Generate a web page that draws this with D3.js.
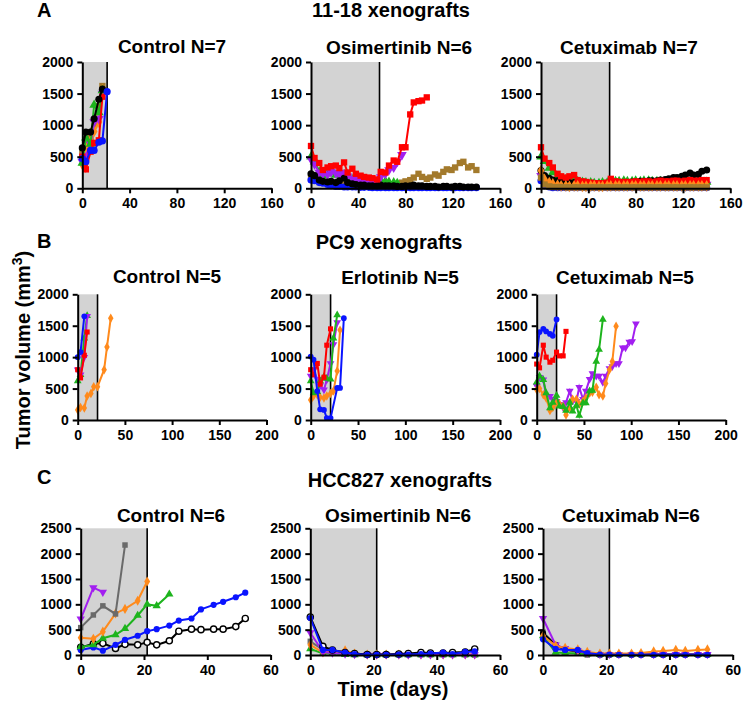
<!DOCTYPE html>
<html><head><meta charset="utf-8">
<script src="https://cdn.jsdelivr.net/npm/d3@7"></script>
<style>
body{margin:0;background:#fff}
svg{display:block}
text{font-family:"Liberation Sans",Arial,Helvetica,sans-serif;font-weight:bold;fill:#000}
</style>
</head><body>
<svg id="chart" width="744" height="705"></svg>
<script>
// ---------------- DATA ----------------
// Row A: 11-18 xenografts
const A_ctrl_days = [0,3,7,10,14,17,21];
const A_ctrl_black  = [640,890,890,1100,1410,1570,null];
const A_ctrl_red    = [500,300,580,720,760,1450,null];
const A_ctrl_green  = [400,800,700,1320,1200,1550,null];
const A_ctrl_purple = [420,520,700,1050,1100,1500,null];
const A_ctrl_orange = [380,650,750,900,1050,1560,null];
const A_ctrl_brown  = [550,700,800,1000,1300,1620,null];
const A_ctrl_blue   = [470,420,600,600,730,750,1530];

const A_long_days = [0,3,7,10,14,17,21,24,28,31,35,38,42,45,49,52,56,59,63,66,70,73,77,80,84,87,91,94,98,101,105,108,112,115,119,122,126,129,133,136,140];
const A_osi_red    = [670,480,400,290,330,350,360,320,410,250,310,230,200,180,170,160,140,260,250,360,440,420,650,650,1170,1360,1380,1390,1440];
const A_osi_purple = [460,380,250,230,220,260,240,220,250,190,160,150,120,110,110,100,120,180,230,290,330,420,530];
const A_osi_green  = [500,420,260,200,230,260,210,250,220,160,140,130,130,110,120,100,100,130,110,100,90,80];
const A_osi_brown  = [160,200,150,110,100,80,70,60,60,50,50,40,40,30,30,20,30,30,40,50,60,70,90,110,130,170,230,180,150,170,220,200,260,300,290,330,400,420,330,350,290];
const A_osi_black  = [230,200,130,110,100,110,90,120,160,90,70,60,50,50,40,40,40,50,40,40,40,30,30,40,40,50,40,40,30,30,30,20,30,30,20,30,30,20,20,20,20];
const A_osi_blue   = [130,120,90,80,60,40,30,30,20,20,20,20,15,15,15,10,10,10,10,10,10,10,10,10,10,10,10,10,10,10,10,10,10,10,10,10,10,10,10,10,10];

const A_cet_red    = [650,470,400,330,230,190,170,190,210,130,110,100,90,80,80,80,90,150,110,100,100,100,100,110,100,110,110,100,110,120,110,110,120,120,110,120,130,120,120,130,130];
const A_cet_green  = [500,430,320,250,180,150,140,130,150,110,100,90,90,80,80,90,90,100,110,110,120,110,110,120,110,120,120,110,110,110,100,100,110,100,100,100,100,90,100,90,100];
const A_cet_black  = [280,200,160,130,120,110,100,90,90,70,70,60,60,60,60,60,70,70,80,80,90,90,100,100,110,110,120,120,120,130,140,150,170,170,190,210,240,210,220,270,290];
const A_cet_purple = [200,120,90,80,70,60,60,60,60,60,60,60,60,60,60,60,60,60,60,60,60,60,60,60,60,60,60,60,60,60,60,60,60,60,60,60,60,60,60,60,60];
const A_cet_orange = [280,140,90,70,50,40,40,30,40,40,30,30,40,40,30,30,40,40,40,40,40,40,40,40,40,40,40,40,40,40,40,40,40,40,40,40,40,40,40,40,40];
const A_cet_brown  = [170,60,30,20,20,20,15,15,15,15,15,15,15,15,15,15,15,15,15,15,15,15,15,15,15,15,15,15,15,15,15,15,15,15,15,15,15,15,15,15,15];
const A_cet_blue   = [120,40,20,10,10,10,10,10,10,10,10,10,10,10,10,10,10,10,10,10,10,10,10,10,10,10,10,10,10,10,10,10,10,10,10,10,10,10,10,10,10];

// Row B: PC9 xenografts
const B_days = [0,3,7,10,14,17,21,24,28,31,35,38,42,45,49,52,56,59,63,66,70,73,77,80,84,87,91,94,98,101,105];
const B_ctrl_blue   = [1000,1080,1650];
const B_ctrl_red    = [800,670,1030,1400];
const B_ctrl_green  = [620,720,1300,1660];
const B_ctrl_purple = [800,720,1000,1650];
const B_ctrl_orange = [160,200,190,380,420,530,530,null,800,1160,1620];

const B_erl_blue   = [1010,960,460,170,160,30,30,null,510,510,1620];
const B_erl_red    = [800,720,900,570,680,1190,1450];
const B_erl_green  = [620,430,450,620,690,660,650,1300,1670];
const B_erl_purple = [700,800,650,550,480,640,900,1200,1550];
const B_erl_orange = [320,380,400,360,350,380,420,460,780,1430];

const B_cet_blue   = [1040,1400,1450,1410,1370,1340,1600];
const B_cet_red    = [890,830,1190,1000,920,950,1080,1020,1020,1410];
const B_cet_green  = [600,700,640,430,190,280,390,220,210,150,280,140,230,70,270,270,460,470,930,1120,1600];
const B_cet_orange = [480,500,400,350,150,200,270,260,220,80,200,330,330,250,300,350,430,440,520,400,380,580,800,930,1490];
const B_cet_purple = [540,680,640,380,380,330,300,250,200,280,460,300,300,520,330,460,650,740,700,700,600,700,820,850,900,900,1150,1150,1240,1250,1530];

// Row C: HCC827 xenografts
const C_days = [0,4,7,11,14,18,21,24,28,31,35,38,42,45,49,52];
const C_ctrl_purple = [710,1330,1240];
const C_ctrl_gray   = [540,790,970,810,2170];
const C_ctrl_orange = [340,320,460,820,910,1070,1450];
const C_ctrl_green  = [160,200,330,400,520,780,1000,970,1200];
const C_ctrl_blue   = [100,150,85,200,300,380,470,510,580,680,720,900,990,1050,1140,1230];
const C_ctrl_black  = [150,220,230,130,210,200,250,200,280,470,510,500,510,510,560,720];

const C_osi_gray   = [270,100,50,20,10,5,5,5,5,5,5,5,5,5,5,0];
const C_osi_orange = [200,50,60,90,30,10,10,10,10,10,10,10,10,10,10,10];
const C_osi_green  = [120,30,40,10,5,5,5,5,5,5,5,5,5,5,5,5];
const C_osi_purple = [440,60,40,20,10,5,5,5,5,5,5,5,5,5,5,5];
const C_osi_black  = [750,170,100,50,30,10,10,10,20,30,50,40,40,50,60,120];
const C_osi_blue   = [730,100,100,50,20,5,5,5,10,10,20,30,50,20,60,70];

const C_cet_gray   = [450,200,100,60,0,0,0,0,0,0,0,0,0,0,0,0];
const C_cet_green  = [380,50,40,30,20,10,10,10,10,10,10,10,10,10,10,10];
const C_cet_black  = [430,200,110,80,40,10,10,10,10,10,10,10,10,10,10,10];
const C_cet_purple = [720,200,130,80,40,10,10,10,10,10,10,10,10,10,10,10];
const C_cet_orange = [380,180,140,110,60,30,30,30,30,40,70,80,100,80,100,110];
const C_cet_blue   = [310,120,100,100,40,10,10,5,5,5,5,5,5,5,5,5];

// axis ticks
const A_xticks = [0,40,80,120,160];
const B_xticks = [0,50,100,150,200];
const C_xticks = [0,20,40,60];
const AB_yticks = [0,500,1000,1500,2000];
const C_yticks = [0,500,1000,1500,2000,2500];

// ---------------- STYLE ----------------
const COL = {black:"#000000", red:"#ff0000", green:"#1db41d", purple:"#a21ff0", orange:"#ff8a1c", blue:"#0a14ff", brown:"#a37a2c", gray:"#6a6a6a"};
const SHAPE = {black:"circle", red:"square", green:"triangle", purple:"tridown", orange:"diamond", blue:"circle", brown:"square", gray:"square"};

function S(color, days, values, opts){ return Object.assign({color, days, values}, opts||{}); }

const panels = [
  {title:"Control N=7", tx:172, ty:53, x0:82.3, x1:271.5, y0:188.3, y1:62, xmax:160, ymax:2000, xt:A_xticks, yt:AB_yticks, shade:21, msize:40,
   series:[S("brown",A_ctrl_days,A_ctrl_brown),S("orange",A_ctrl_days,A_ctrl_orange),S("purple",A_ctrl_days,A_ctrl_purple),S("green",A_ctrl_days,A_ctrl_green),S("red",A_ctrl_days,A_ctrl_red),S("black",A_ctrl_days,A_ctrl_black),S("blue",A_ctrl_days,A_ctrl_blue)]},
  {title:"Osimertinib N=6", tx:399, ty:54, x0:311, x1:500, y0:188.3, y1:62, xmax:160, ymax:2000, xt:A_xticks, yt:AB_yticks, shade:58, msize:40,
   series:[S("brown",A_long_days,A_osi_brown),S("blue",A_long_days,A_osi_blue),S("green",A_long_days,A_osi_green),S("purple",A_long_days,A_osi_purple),S("black",A_long_days,A_osi_black),S("red",A_long_days,A_osi_red)]},
  {title:"Cetuximab N=7", tx:629, ty:54, x0:541, x1:730.3, y0:188.3, y1:62, xmax:160, ymax:2000, xt:A_xticks, yt:AB_yticks, shade:58, msize:40,
   series:[S("blue",A_long_days,A_cet_blue),S("purple",A_long_days,A_cet_purple),S("green",A_long_days,A_cet_green),S("black",A_long_days,A_cet_black),S("red",A_long_days,A_cet_red),S("orange",A_long_days,A_cet_orange),S("brown",A_long_days,A_cet_brown)]},

  {title:"Control N=5", tx:167, ty:283, x0:77.7, x1:266.5, y0:420, y1:294.3, xmax:200, ymax:2000, xt:B_xticks, yt:AB_yticks, shade:21, msize:26,
   series:[S("orange",B_days,B_ctrl_orange),S("green",B_days,B_ctrl_green),S("purple",B_days,B_ctrl_purple),S("red",B_days,B_ctrl_red),S("blue",B_days,B_ctrl_blue)]},
  {title:"Erlotinib N=5", tx:400, ty:284, x0:310.7, x1:500, y0:420, y1:294.3, xmax:200, ymax:2000, xt:B_xticks, yt:AB_yticks, shade:21, msize:26,
   series:[S("orange",B_days,B_erl_orange),S("purple",B_days,B_erl_purple),S("green",B_days,B_erl_green),S("red",B_days,B_erl_red),S("blue",B_days,B_erl_blue)]},
  {title:"Cetuximab N=5", tx:625, ty:284, x0:536.7, x1:725.7, y0:420, y1:294.3, xmax:200, ymax:2000, xt:B_xticks, yt:AB_yticks, shade:21, msize:26,
   series:[S("purple",B_days,B_cet_purple),S("orange",B_days,B_cet_orange),S("green",B_days,B_cet_green),S("red",B_days,B_cet_red),S("blue",B_days,B_cet_blue)]},

  {title:"Control N=6", tx:171, ty:522, x0:80.7, x1:270.6, y0:655, y1:528.3, xmax:60, ymax:2500, xt:C_xticks, yt:C_yticks, shade:21, msize:30,
   series:[S("black",C_days,C_ctrl_black,{open:true}),S("blue",C_days,C_ctrl_blue),S("green",C_days,C_ctrl_green),S("orange",C_days,C_ctrl_orange),S("gray",C_days,C_ctrl_gray),S("purple",C_days,C_ctrl_purple)]},
  {title:"Osimertinib N=6", tx:398, ty:522, x0:310.3, x1:500, y0:655, y1:528.3, xmax:60, ymax:2500, xt:C_xticks, yt:C_yticks, shade:21, msize:30,
   series:[S("gray",C_days,C_osi_gray),S("green",C_days,C_osi_green),S("orange",C_days,C_osi_orange),S("purple",C_days,C_osi_purple),S("black",C_days,C_osi_black,{open:true}),S("blue",C_days,C_osi_blue)]},
  {title:"Cetuximab N=6", tx:631, ty:522, x0:543, x1:732.7, y0:655, y1:528.3, xmax:60, ymax:2500, xt:C_xticks, yt:C_yticks, shade:21, msize:30,
   series:[S("gray",C_days,C_cet_gray),S("green",C_days,C_cet_green),S("black",C_days,C_cet_black),S("purple",C_days,C_cet_purple),S("orange",C_days,C_cet_orange),S("blue",C_days,C_cet_blue)]}
];

// ---------------- DRAW ----------------
const svg = d3.select("#chart");
svg.append("rect").attr("width",744).attr("height",705).attr("fill","#fff");

function symbolPath(shape, size){
  let t = d3.symbolCircle;
  if(shape==="square") t = d3.symbolSquare;
  else if(shape==="triangle" || shape==="tridown") t = d3.symbolTriangle;
  else if(shape==="diamond") t = d3.symbolDiamond;
  return d3.symbol().type(t).size(size)();
}

panels.forEach(p=>{
  const x = d3.scaleLinear().domain([0,p.xmax]).range([p.x0,p.x1]);
  const y = d3.scaleLinear().domain([0,p.ymax]).range([p.y0,p.y1]);
  const g = svg.append("g");
  // shaded treatment window
  g.append("rect").attr("x",x(0)).attr("y",y(p.ymax)).attr("width",x(p.shade)-x(0)).attr("height",y(0)-y(p.ymax)).attr("fill","#d3d3d3");
  g.append("line").attr("x1",x(p.shade)).attr("x2",x(p.shade)).attr("y1",y(0)).attr("y2",y(p.ymax)).attr("stroke","#000").attr("stroke-width",1.6);

  p.series.forEach(s=>{
    const pts = s.values.map((v,i)=>[s.days[i],v]).filter(d=>d[1]!==null && d[1]!==undefined);
    const line = d3.line().x(d=>x(d[0])).y(d=>y(d[1]));
    g.append("path").attr("d",line(pts)).attr("fill","none").attr("stroke",COL[s.color]).attr("stroke-width",2);
    const shape = SHAPE[s.color];
    g.selectAll(null).data(pts).enter().append("path")
      .attr("d",symbolPath(shape,p.msize))
      .attr("transform",d=>`translate(${x(d[0])},${y(d[1])})`+(shape==="tridown"?" rotate(180)":""))
      .attr("fill",s.open?"#fff":COL[s.color])
      .attr("stroke",s.open?COL[s.color]:"none")
      .attr("stroke-width",1.4);
  });

  const xa = d3.axisBottom(x).tickValues(p.xt).tickSize(5).tickSizeOuter(0).tickPadding(5).tickFormat(d3.format("d"));
  const ya = d3.axisLeft(y).tickValues(p.yt).tickSize(5).tickSizeOuter(0).tickPadding(4).tickFormat(d3.format("d"));
  const gx = g.append("g").attr("transform",`translate(0,${p.y0})`).call(xa);
  const gy = g.append("g").attr("transform",`translate(${p.x0},0)`).call(ya);
  [gx,gy].forEach(a=>{
    a.select(".domain").attr("stroke","#000").attr("stroke-width",2);
    a.selectAll(".tick line").attr("stroke","#000").attr("stroke-width",2);
    a.selectAll(".tick text").style("font-size","14px").style("font-weight","bold").style("font-family",'"Liberation Sans",Arial,sans-serif').attr("fill","#000");
  });

  svg.append("text").attr("x",p.tx).attr("y",p.ty).attr("text-anchor","middle").style("font-size","19px").text(p.title);
});

// row labels and headings
const heads = [
  {l:"A", ly:17, t:"11-18 xenografts", tx:391, ty:17},
  {l:"B", ly:248, t:"PC9 xenografts", tx:389, ty:249},
  {l:"C", ly:484, t:"HCC827 xenografts", tx:400, ty:487}
];
heads.forEach(h=>{
  svg.append("text").attr("x",37).attr("y",h.ly).style("font-size","20px").text(h.l);
  svg.append("text").attr("x",h.tx).attr("y",h.ty).attr("text-anchor","middle").style("font-size","20px").text(h.t);
});

// axis titles
const yt = svg.append("text").attr("transform","translate(30,350) rotate(-90)").attr("text-anchor","middle").style("font-size","20px");
yt.append("tspan").text("Tumor volume (mm");
yt.append("tspan").attr("dy","-8").style("font-size","14px").text("3");
yt.append("tspan").attr("dy","8").text(")");
svg.append("text").attr("x",393).attr("y",696).attr("text-anchor","middle").style("font-size","20px").text("Time (days)");
</script>
</body></html>
